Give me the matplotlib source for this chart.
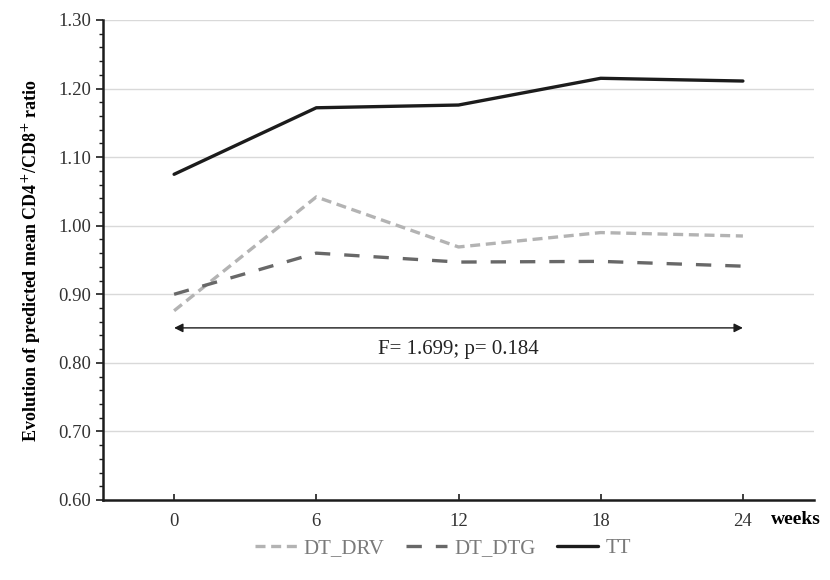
import matplotlib
matplotlib.use("Agg")
from matplotlib import pyplot as plt
from matplotlib.ticker import MultipleLocator

plt.rcParams['font.family'] = ['Liberation Serif', 'DejaVu Serif']

weeks = ['0', '6', '12', '18', '24']
dt_drv = [0.876, 1.042, 0.969, 0.990, 0.985]
dt_dtg = [0.900, 0.960, 0.947, 0.948, 0.941]
tt = [1.075, 1.172, 1.176, 1.215, 1.211]
stat_text = 'F= 1.699; p= 0.184'

fig = plt.figure(figsize=(8.3, 5.8), dpi=100)
ax = fig.add_axes([103/830, 1-500/580, (814-103)/830, 480/580])

x = range(len(weeks))
ax.plot(x, dt_drv, color='#b3b3b3', lw=2.4, dashes=(3.0, 1.7), label='DT_DRV')
ax.plot(x, dt_dtg, color='#686868', lw=2.4, dashes=(4.6, 4.2), label='DT_DTG')
ax.plot(x, tt, color='#1c1c1c', lw=2.4, label='TT', solid_capstyle='round')

# arrow across the whole period
ax.annotate('', xy=(0, 0.851), xytext=(4, 0.851),
            arrowprops=dict(arrowstyle='<|-|>', color='#1c1c1c', lw=1.0,
                            mutation_scale=13, shrinkA=0, shrinkB=0))
ax.text(2.0, 0.820, stat_text, ha='center', va='center', fontsize=15, color='#222222')

ax.set_ylim(0.6, 1.3)
ax.set_xlim(-0.5, 4.5)
ax.yaxis.set_minor_locator(MultipleLocator(0.02))
ax.set_yticks([0.6 + 0.1*i for i in range(8)])
ax.set_yticklabels(['%.2f' % (0.6 + 0.1*i) for i in range(8)])
ax.set_xticks(list(x))
ax.set_xticklabels(weeks)
ax.tick_params(axis='y', which='major', direction='out', length=5, width=1.2, labelsize=13.5,
               colors='#1c1c1c', labelcolor='#333333')
ax.tick_params(axis='y', which='minor', direction='out', length=3, width=1.0, colors='#1c1c1c')
ax.tick_params(axis='x', direction='in', length=4, width=1.2, labelsize=13.5, pad=9,
               colors='#1c1c1c', labelcolor='#333333')

ax.grid(axis='y', which='major', color='#d9d9d9', lw=1.0)
ax.set_axisbelow(True)
for s in ['top', 'right']:
    ax.spines[s].set_visible(False)
for s in ['left', 'bottom']:
    ax.spines[s].set_linewidth(1.8)
    ax.spines[s].set_color('#1c1c1c')

ax.set_ylabel('Evolution of predicted mean CD4$^{+}$/CD8$^{+}$ ratio',
              fontsize=13, fontweight='bold', labelpad=11)
fig.text(821/830, 1-520/580, 'weeks', ha='right', va='center', fontsize=14, fontweight='bold')

leg = fig.legend(loc='center', bbox_to_anchor=(443/830, 1-548/580), ncol=3, frameon=False,
                 fontsize=15, handlelength=2.0, handletextpad=0.35, columnspacing=1.0)
for t in leg.get_texts():
    t.set_color('#7a7a7a')

fig.savefig('out.png', dpi=100)
